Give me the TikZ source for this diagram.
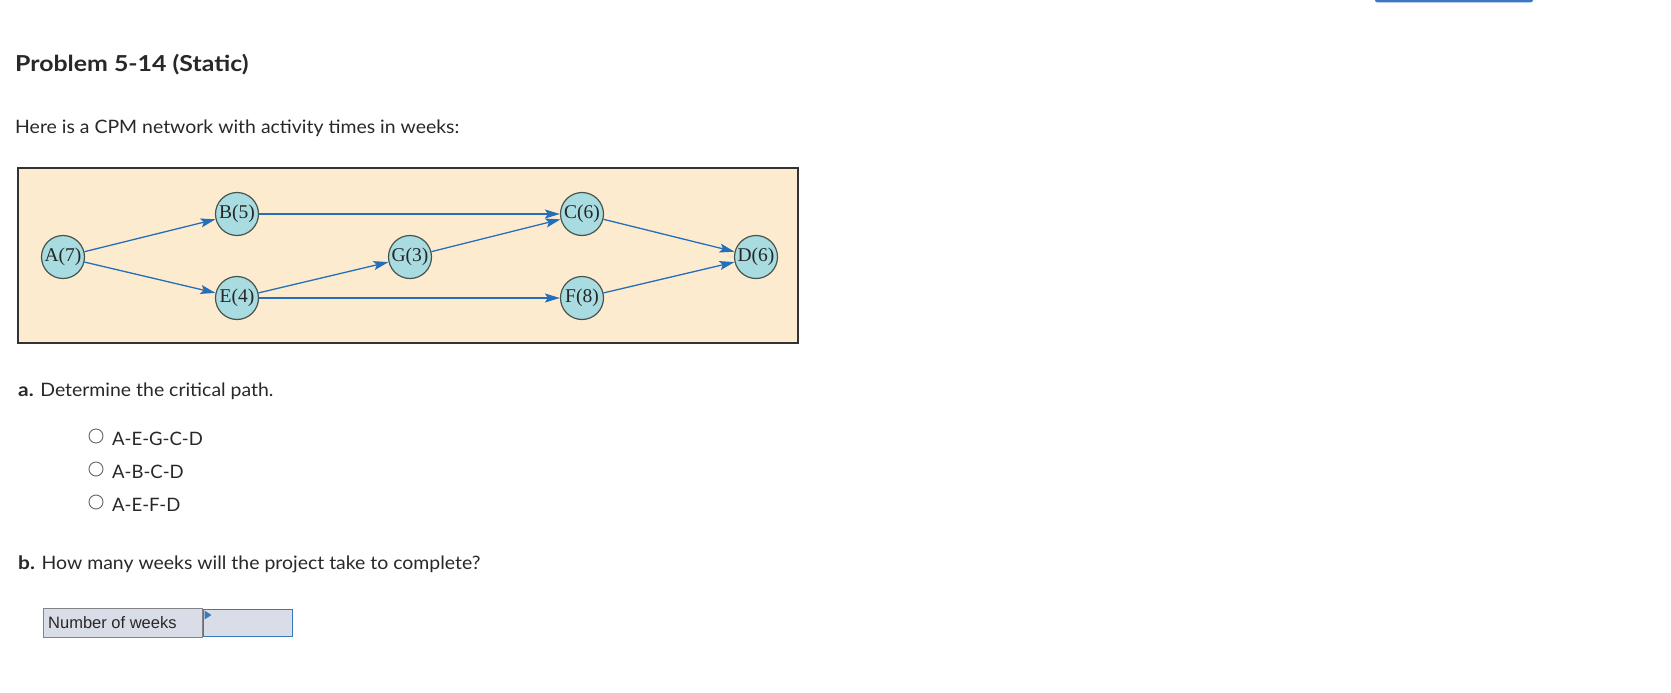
\documentclass[tikz,border=0pt]{standalone}
\usepackage{fontspec}
\setmainfont{Lato}[FakeStretch=1.05, BoldFeatures={FakeStretch=1.13}]
\newfontfamily\serifnode{Liberation Serif}
\newfontfamily\arialish{Liberation Sans}
\newfontfamily\optfont{Lato}[FakeStretch=1.0]
\usetikzlibrary{arrows.meta}
\definecolor{beige}{RGB}{253,235,208}
\definecolor{nodefill}{RGB}{168,220,224}
\definecolor{nodeline}{RGB}{70,84,78}
\definecolor{arrowblue}{RGB}{36,110,186}
\definecolor{txt}{RGB}{40,40,40}
\definecolor{cellfill}{RGB}{217,221,232}
\definecolor{cellline}{RGB}{130,130,135}
\definecolor{inputblue}{RGB}{59,120,192}
\tikzset{
  act/.style={circle, draw=nodeline, line width=1.2pt, fill=nodefill, minimum size=43pt, inner sep=0pt,
    font=\serifnode\fontsize{19.5}{21}\selectfont, text=black!85},
  link/.style={draw=arrowblue, line width=1.3pt, -{Stealth[length=15pt,width=9pt,inset=3pt]}},
  bodytext/.style={anchor=base west, inner sep=0pt, text=txt, font=\fontsize{18.5}{22}\selectfont},
  opttext/.style={anchor=base west, inner sep=0pt, text=txt, font=\optfont\fontsize{18.5}{22}\selectfont},
  radio/.style={circle, draw=black!60, line width=0.9pt, fill=white, minimum size=14pt, inner sep=0pt}
}
\begin{document}
\begin{tikzpicture}[x=1pt,y=-1pt]
\useasboundingbox (0,0) rectangle (1671,693);
\fill[white] (0,0) rectangle (1671,693);
% top-right button edge
\fill[inputblue, rounded corners=2.5pt] (1375,-8) rectangle (1533,2.5);
% title and intro
\node[bodytext, font=\bfseries\fontsize{22}{26}\selectfont] (title) at (15,71) {Problem 5-14 (Static)};
\node[bodytext] (intro) at (15,133) {Here is a CPM network with activity times in weeks:};
% diagram frame
\draw[draw=black!80, line width=1.5pt, fill=beige] (18,168) rectangle (798,343);
% activities
\node[act] (A) at (63,257) {A(7)};
\node[act] (B) at (237,214) {B(5)};
\node[act] (E) at (237,298) {E(4)};
\node[act] (G) at (410,257) {G(3)};
\node[act] (C) at (582,214) {C(6)};
\node[act] (F) at (582,298) {F(8)};
\node[act] (D) at (756,257) {D(6)};
\draw[link] (A) -- (B);
\draw[link] (A) -- (E);
\draw[link] (B) -- (C);
\draw[link] (E) -- (G);
\draw[link] (E) -- (F);
\draw[link] (G) -- (C);
\draw[link] (C) -- (D);
\draw[link] (F) -- (D);
% part a
\node[bodytext] (qa) at (18,396) {\textbf{a.} Determine the critical path.};
\node[radio] (r1) at (96,436) {};
\node[opttext] (o1) at (112,445) {A-E-G-C-D};
\node[radio] (r2) at (96,469) {};
\node[opttext] (o2) at (112,478) {A-B-C-D};
\node[radio] (r3) at (96,502) {};
\node[opttext] (o3) at (112,511) {A-E-F-D};
% part b
\node[bodytext] (qb) at (18,569) {\textbf{b.} How many weeks will the project take to complete?};
\draw[draw=cellline, line width=1pt, fill=cellfill] (43,608) rectangle (202,637);
\node[anchor=base west, inner sep=0pt, font=\arialish\fontsize{16.5}{19}\selectfont, text=txt] (nw) at (48,628) {Number of weeks};
\draw[draw=inputblue, line width=1.6pt, fill=cellfill] (203.5,609.5) rectangle (292.5,636.5);
\fill[inputblue] (204.5,610.5) -- (211.5,615) -- (204.5,619.5) -- cycle;
\end{tikzpicture}
\end{document}
